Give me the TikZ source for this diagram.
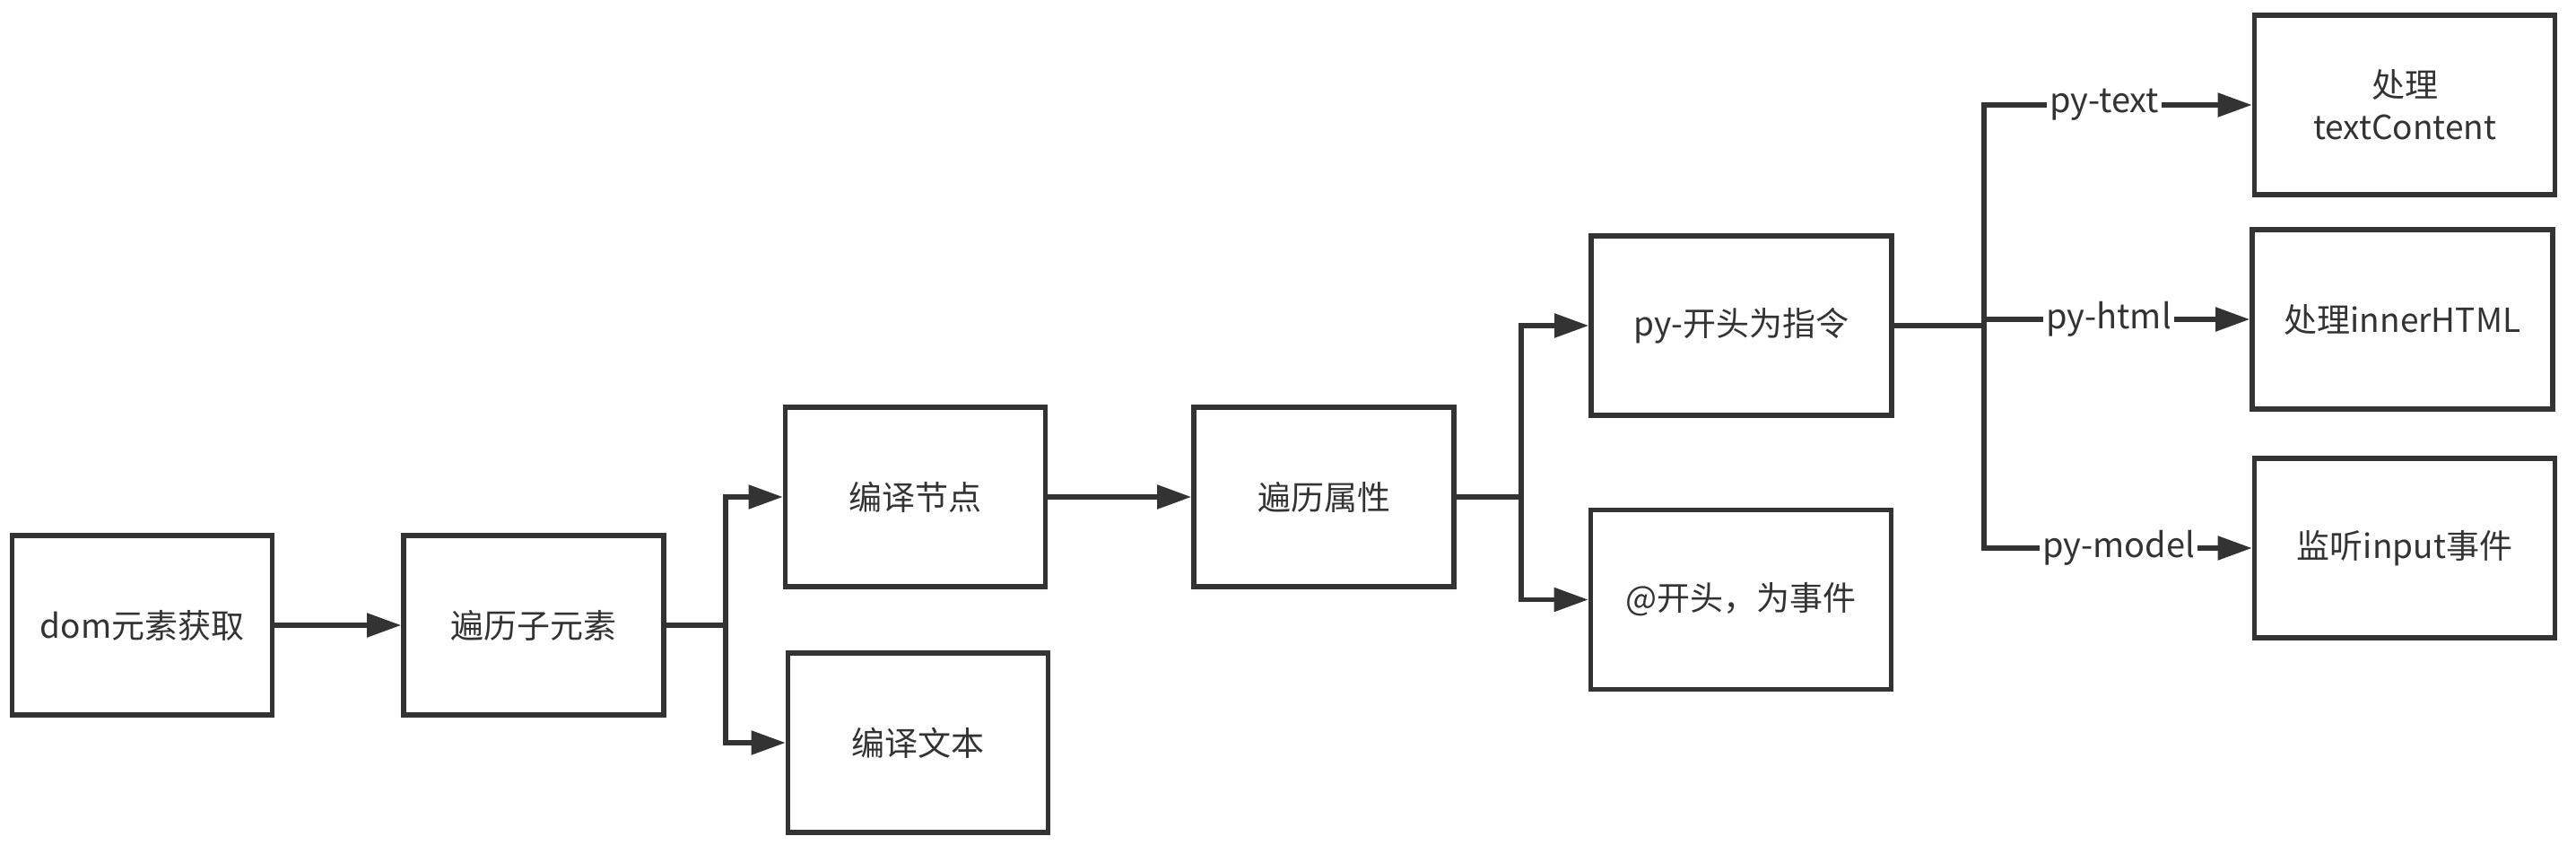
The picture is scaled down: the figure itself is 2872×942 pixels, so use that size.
\documentclass[tikz,border=0pt]{standalone}
\usepackage{fontspec}
\setmainfont{Noto Sans CJK SC}
\usetikzlibrary{arrows.meta}
\definecolor{ink}{HTML}{333333}
\begin{document}
\begin{tikzpicture}[x=0.5pt,y=-0.5pt,
  box/.style={draw=ink, line width=2.8pt, minimum width=145pt, minimum height=100pt, inner sep=0pt, text=ink, font=\fontsize{18.5}{23.5}\selectfont, align=center},
  wbox/.style={box, minimum width=167.5pt, minimum height=100pt},
  arr/.style={draw=ink, line width=2.6pt, -{Triangle[length=19pt,width=13pt]}},
  ln/.style={draw=ink, line width=2.6pt},
  lbl/.style={fill=white, text=ink, inner sep=1.5pt, font=\fontsize{19}{22}\selectfont}]
\useasboundingbox (0,0) rectangle (2872,942);
\node[box] (dom) at (158.5,697) {dom元素获取};
\node[box] (trav) at (595,697) {遍历子元素};
\node[box] (cnode) at (1020.5,554) {编译节点};
\node[box] (ctext) at (1023.5,828) {编译文本};
\node[box] (attr) at (1476,554) {遍历属性};
\node[wbox] (pyins) at (1941.5,363) {py-开头为指令};
\node[wbox] (event) at (1941,668.5) {@开头，为事件};
\node[wbox] (tc) at (2681,117) {处理\\textContent};
\node[wbox] (ih) at (2678.5,356) {处理innerHTML};
\node[wbox] (inp) at (2681,611) {监听input事件};
\coordinate (j1) at (809,697);
\coordinate (j2) at (1696,554);
\coordinate (j3) at (2212,363);
\draw[arr] (dom.east) -- (trav.west);
\draw[ln] (trav.east) -- (j1);
\draw[arr] (j1) |- (cnode.west);
\draw[arr] (j1) |- (ctext.west);
\draw[arr] (cnode.east) -- (attr.west);
\draw[ln] (attr.east) -- (j2);
\draw[arr] (j2) |- (pyins.west);
\draw[arr] (j2) |- (event.west);
\draw[ln] (pyins.east) -- (j3);
\draw[arr] (j3) |- (tc.west);
\draw[arr] (j3) |- (ih.west);
\draw[arr] (j3) |- (inp.west);
\node[lbl] (l1) at (2346,117) {py-text};
\node[lbl] (l2) at (2351,356) {py-html};
\node[lbl] (l3) at (2362,611) {py-model};
\end{tikzpicture}
\end{document}
